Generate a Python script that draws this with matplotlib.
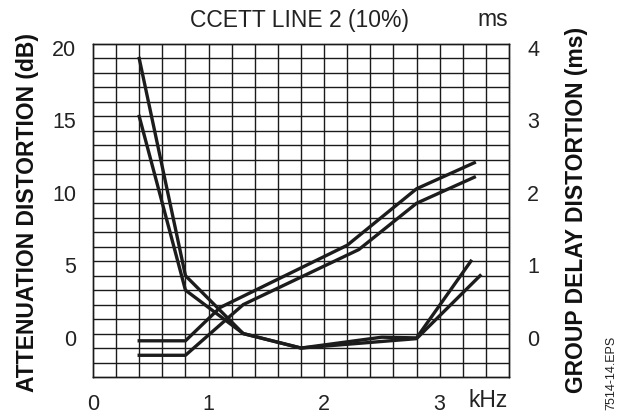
import matplotlib
matplotlib.use("Agg")
import matplotlib.pyplot as plt
import matplotlib.transforms as mtransforms
import numpy as np

plt.rcParams['font.family'] = ['Liberation Sans', 'DejaVu Sans']

# Attenuation distortion (dB, left axis)
att1_f = [0.4, 0.8, 1.1, 2.2, 2.8, 3.3]
att1_db = [-0.5, -0.5, 1.8, 6.1, 10.0, 11.8]
att2_f = [0.4, 0.8, 1.3, 2.3, 2.8, 3.3]
att2_db = [-1.5, -1.5, 2.0, 5.8, 9.0, 10.8]

# Group delay distortion (ms, right axis)
gd1_f = [0.4, 0.8, 1.3, 1.8, 2.5, 2.8, 3.27]
gd1_ms = [3.8, 0.8, 0.0, -0.2, -0.05, -0.06, 1.0]
gd2_f = [0.4, 0.8, 1.3, 1.8, 2.8, 3.35]
gd2_ms = [3.0, 0.6, 0.0, -0.2, -0.07, 0.8]

x_ticks = [0, 1, 2, 3]
left_ticks = [0, 5, 10, 15, 20]
right_ticks = [0, 1, 2, 3, 4]

fig = plt.figure(figsize=(6.32, 4.19), dpi=100)
ax = fig.add_axes([93/632, 1-377/419, (509-93)/632, (377-44)/419])
ax.set_xlim(0, 3.6)
ax.set_ylim(-3, 20)
ax2 = ax.twinx()
ax2.set_ylim(-0.6, 4)

gcol = '#1a1a1a'
for xv in np.arange(0.2, 3.6, 0.2):
    ax.axvline(xv, color=gcol, lw=1.0, zorder=1)
for yv in range(-2, 20):
    ax.axhline(yv, color=gcol, lw=1.0, zorder=1)

lc = '#1c1c1c'
lw = 2.4
ax.plot(att1_f, att1_db, color=lc, lw=lw, zorder=3, solid_joinstyle='round')
ax.plot(att2_f, att2_db, color=lc, lw=lw, zorder=3, solid_joinstyle='round')
ax2.plot(gd1_f, gd1_ms, color=lc, lw=lw, zorder=3, solid_joinstyle='round')
ax2.plot(gd2_f, gd2_ms, color=lc, lw=lw, zorder=3, solid_joinstyle='round')

for a in (ax, ax2):
    for s in a.spines.values():
        s.set_color(gcol)
        s.set_linewidth(1.0)

fs = 15.5
ax.set_xticks(x_ticks)
ax.set_xticklabels([str(v) for v in x_ticks], fontsize=fs, color='#222222')
ax.set_yticks(left_ticks)
ax.set_yticklabels([str(v) for v in left_ticks], fontsize=fs, color='#222222')
ax2.set_yticks(right_ticks)
ax2.set_yticklabels([str(v) for v in right_ticks], fontsize=fs, color='#222222')
ax.tick_params(axis='both', length=0, pad=12)
ax2.tick_params(axis='y', length=0, pad=13)

off = mtransforms.ScaledTranslation(0, -4/100, fig.dpi_scale_trans)
for lab in ax.get_yticklabels() + ax2.get_yticklabels():
    lab.set_transform(lab.get_transform() + off)

fig.text(300/632, 1-20/419, 'CCETT LINE 2 (10%)', ha='center', va='center',
         fontsize=16.5, color='#222222')
fig.text(493/632, 1-20/419, 'ms', ha='center', va='center', fontsize=16.5, color='#222222')
fig.text(488/632, 1-400/419, 'kHz', ha='center', va='center', fontsize=16.5, color='#222222')

fig.text(28/632, 1-212/419, 'ATTENUATION DISTORTION (dB)', rotation=90, ha='center',
         va='center', fontsize=16.5, fontweight='bold', color='#111111')
fig.text(576/632, 1-210/419, 'GROUP DELAY DISTORTION (ms)', rotation=90, ha='center',
         va='center', fontsize=16.5, fontweight='bold', color='#111111')
fig.text(611/632, 1-373/419, '7514-14.EPS', rotation=90, ha='center', va='center',
         fontsize=9, color='#222222')

fig.savefig('out.png', dpi=100, facecolor='white')
